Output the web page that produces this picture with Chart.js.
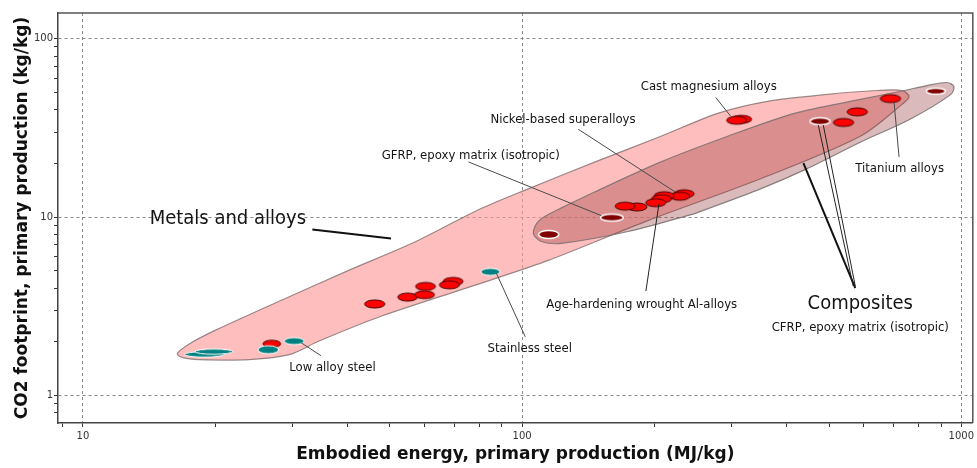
<!DOCTYPE html>
<html>
<head>
<meta charset="utf-8">
<script src="https://cdn.jsdelivr.net/npm/chart.js@4/dist/chart.umd.min.js"></script>
<style>
  html, body { margin: 0; padding: 0; background: #ffffff; }
  #wrap { width: 977px; height: 468px; position: relative; }
</style>
</head>
<body>
<div id="wrap"><canvas id="chart"></canvas></div>
<script>
// Embodied energy, primary production (MJ/kg) as [low, high] per record
const metalEnergy = [
  [25.7, 28.2], [43.8, 48.7], [52.1, 57.8], [57.2, 63.5], [56.9, 63.2],
  [66.1, 73.4], [64.8, 72.0], [173.4, 192.5], [162.9, 180.8], [222.0, 246.5],
  [217.0, 241.0], [200.0, 222.0], [197.2, 219.0], [191.2, 212.3], [300.1, 333.2],
  [292.2, 324.4], [511.5, 569.0], [549.6, 611.6], [654, 728]
];
// CO2 footprint, primary production (kg/kg) as [low, high] per record
const metalCO2 = [
  [1.86, 2.04], [3.09, 3.43], [3.38, 3.75], [3.88, 4.30], [3.49, 3.86],
  [4.14, 4.59], [3.96, 4.39], [10.83, 12.00], [10.94, 12.13], [12.84, 14.23],
  [12.43, 13.78], [12.52, 13.87], [12.05, 13.35], [11.44, 12.67], [33.61, 37.24],
  [33.18, 36.77], [32.26, 35.75], [37.0, 41.0], [43.89, 48.63]
];

const steelEnergy = [[17.03, 20.98], [18.0, 21.95], [28.73, 31.89], [25.03, 27.91], [80.6, 89.0]];
const steelCO2 = [[1.64, 1.76], [1.70, 1.82], [1.928, 2.110], [1.714, 1.899], [4.71, 5.16]];

const compositeEnergy = [[109.1, 121.2], [150.8, 170.0], [452.6, 502.5], [832.5, 919.5]];
const compositeCO2 = [[7.59, 8.41], [9.50, 10.40], [32.95, 36.06], [48.95, 52.84]];

// Family envelopes (outline, MJ/kg and kg/kg)
const metalsHullEnergy = [80.8, 47.9, 34.5, 29.5, 23.9, 18.4, 16.9, 16.4, 17.5, 20.1, 28.4, 40.4, 57.3,
  79.6, 103.3, 146.7, 207.1, 278.9, 362.3, 495.5, 643.6, 733.2, 760.5, 733.2, 588.9, 349.1, 193.4, 114.7, 80.8];
const metalsHullCO2 = [4.26, 2.79, 2.02, 1.692, 1.587, 1.587, 1.628, 1.714, 1.949, 2.33, 3.43, 5.04, 7.30,
  11.0, 14.4, 20.4, 28.4, 38.2, 44.6, 48.8, 51.3, 51.3, 47.5, 42.9, 28.4, 16.4, 9.56, 5.72, 4.26];

const compositesHullEnergy = [247.4, 174.3, 122.8, 110.6, 106.1, 108.3, 114.7, 146.7, 207.1, 293.9, 417.2,
  588.9, 741, 835.6, 927.6, 962, 947, 764.6, 588.9, 439.4, 349.1, 247.4];
const compositesHullCO2 = [10.46, 8.30, 7.12, 7.30, 8.09, 9.32, 10.33, 13.87, 20.4, 28.4, 38.2,
  45.7, 51.3, 54.7, 56.9, 54.0, 48.8, 35.4, 26.3, 18.4, 14.4, 10.46];

// Axis tick values
const energyTicks = [9, 10, 20, 30, 40, 50, 60, 70, 80, 90, 100, 200, 300, 400, 500, 600, 700, 800, 900, 1000];
const co2Ticks = [0.8, 0.9, 1, 2, 3, 4, 5, 6, 7, 8, 9, 10, 20, 30, 40, 50, 60, 70, 80, 90, 100];

// Callout texts with anchors and leader lines in data units
const callouts = [
  { text: 'Metals and alloys', size: 20, at: [14.19, 9.81], align: 'left',
    leaders: [{ from: [33.3, 8.52], to: [50.3, 7.59], width: 2, color: '#111111' }] },
  { text: 'Low alloy steel', size: 13, at: [29.5, 1.432], align: 'left',
    leaders: [{ from: [31.4, 1.974], to: [34.85, 1.670] }] },
  { text: 'Stainless steel', size: 13, at: [83.4, 1.827], align: 'left',
    leaders: [{ from: [87.4, 4.84], to: [101.7, 2.13] }] },
  { text: 'Age-hardening wrought Al-alloys', size: 13, at: [113.5, 3.25], align: 'left',
    leaders: [{ from: [205, 11.9], to: [191.4, 3.85], color: '#222222' }] },
  { text: 'Composites', size: 20, at: [588.9, 3.25], align: 'center',
    leaders: [
      { from: [437.1, 20.1], to: [573.7, 4.00], width: 2, color: '#111111' },
      { from: [472.6, 32.8], to: [567.6, 4.10], color: '#222222' },
      { from: [485.1, 32.8], to: [573.7, 4.10], color: '#222222' }
    ] },
  { text: 'CFRP, epoxy matrix (isotropic)', size: 13, at: [588.9, 2.39], align: 'center', leaders: [] },
  { text: 'Titanium alloys', size: 13, at: [573.7, 18.63], align: 'left',
    leaders: [{ from: [703.1, 44.0], to: [721.8, 21.7] }] },
  { text: 'Cast magnesium alloys', size: 13, at: [266.1, 53.7], align: 'center',
    leaders: [{ from: [276.0, 46.9], to: [298.5, 36.8] }] },
  { text: 'Nickel-based superalloys', size: 13, at: [84.7, 35.4], align: 'left',
    leaders: [{ from: [134.2, 31.1], to: [222.8, 13.87] }] },
  { text: 'GFRP, epoxy matrix (isotropic)', size: 13, at: [47.9, 22.0], align: 'left',
    leaders: [{ from: [75.5, 20.4], to: [151.4, 10.2] }] }
];

const LABEL_FONT = "'DejaVu Sans Condensed', 'DejaVu Sans', sans-serif";

function records(energy, co2) {
  return energy.map((e, i) => ({
    x: Math.sqrt(e[0] * e[1]),
    y: Math.sqrt(co2[i][0] * co2[i][1]),
    e: e,
    c: co2[i]
  }));
}

function outline(energy, co2) {
  return energy.map((v, i) => ({ x: v, y: co2[i] }));
}

// Point style: an ellipse spanning each record's energy and CO2 range
const markCache = new Map();
function ellipseMark(fill, stroke, strokeWidth) {
  return (ctx) => {
    const raw = ctx.raw;
    const chart = ctx.chart;
    const xs = chart.scales && chart.scales.x;
    const ys = chart.scales && chart.scales.y;
    if (!raw || !raw.e || !xs || !ys || !(xs.width > 0) || !(ys.height > 0)) return 'circle';
    const w = Math.abs(xs.getPixelForValue(raw.e[1]) - xs.getPixelForValue(raw.e[0]));
    const h = Math.abs(ys.getPixelForValue(raw.c[0]) - ys.getPixelForValue(raw.c[1]));
    if (!isFinite(w) || !isFinite(h)) return 'circle';
    const key = [fill, stroke, strokeWidth, w.toFixed(1), h.toFixed(1)].join('|');
    if (markCache.has(key)) return markCache.get(key);
    const pad = strokeWidth + 1;
    const cv = document.createElement('canvas');
    cv.width = Math.round(w + 2 * pad);
    cv.height = Math.round(h + 2 * pad);
    const g = cv.getContext('2d');
    g.beginPath();
    g.ellipse(cv.width / 2, cv.height / 2, w / 2, h / 2, 0, 0, Math.PI * 2);
    g.fillStyle = fill;
    g.fill();
    g.lineWidth = strokeWidth;
    g.strokeStyle = stroke;
    g.stroke();
    markCache.set(key, cv);
    return cv;
  };
}

const isDecade = (v) => Math.abs(Math.log10(v) - Math.round(Math.log10(v))) < 1e-9;

// Callouts, leader lines and the plot frame
const calloutPlugin = {
  id: 'callouts',
  afterDatasetsDraw(chart) {
    const { ctx, chartArea, scales: { x, y } } = chart;
    ctx.save();
    ctx.lineCap = 'butt';
    callouts.forEach((c) => {
      c.leaders.forEach((l) => {
        ctx.beginPath();
        ctx.moveTo(x.getPixelForValue(l.from[0]), y.getPixelForValue(l.from[1]));
        ctx.lineTo(x.getPixelForValue(l.to[0]), y.getPixelForValue(l.to[1]));
        ctx.lineWidth = l.width || 1;
        ctx.strokeStyle = l.color || '#4a4a4a';
        ctx.stroke();
      });
    });
    callouts.forEach((c) => {
      ctx.font = c.size + 'px ' + LABEL_FONT;
      ctx.fillStyle = '#141414';
      ctx.textAlign = c.align;
      ctx.textBaseline = 'middle';
      ctx.fillText(c.text, x.getPixelForValue(c.at[0]), y.getPixelForValue(c.at[1]));
    });
    // top and right edges of the plot frame
    ctx.beginPath();
    ctx.moveTo(chartArea.left, chartArea.top);
    ctx.lineTo(chartArea.right, chartArea.top);
    ctx.lineTo(chartArea.right, chartArea.bottom);
    ctx.lineWidth = 1.5;
    ctx.strokeStyle = '#555555';
    ctx.stroke();
    ctx.restore();
  }
};

const gridColor = (ctx) => (ctx.tick && isDecade(ctx.tick.value)) ? '#8a8a8a' : 'rgba(0,0,0,0)';
const tickLabel = (v) => isDecade(v) ? String(v) : '';

new Chart(document.getElementById('chart'), {
  type: 'scatter',
  data: {
    datasets: [
      {
        type: 'line',
        label: 'Metals and alloys',
        data: outline(metalsHullEnergy, metalsHullCO2),
        fill: 'shape',
        backgroundColor: 'rgba(255,150,150,0.62)',
        borderColor: 'rgba(130,110,110,0.8)',
        borderWidth: 1.2,
        tension: 0.3,
        pointRadius: 0,
        order: 10
      },
      {
        type: 'line',
        label: 'Composites',
        data: outline(compositesHullEnergy, compositesHullCO2),
        fill: 'shape',
        backgroundColor: 'rgba(140,40,40,0.32)',
        borderColor: 'rgba(120,110,110,0.85)',
        borderWidth: 1.2,
        tension: 0.3,
        pointRadius: 0,
        order: 9
      },
      {
        label: 'Metals',
        data: records(metalEnergy, metalCO2),
        pointStyle: ellipseMark('#ff0000', '#4a0000', 1),
        pointRadius: 5,
        order: 3
      },
      {
        label: 'Steels',
        data: records(steelEnergy, steelCO2),
        pointStyle: ellipseMark('#008080', '#ffffff', 1),
        pointRadius: 5,
        order: 2
      },
      {
        label: 'Composites (records)',
        data: records(compositeEnergy, compositeCO2),
        pointStyle: ellipseMark('#800000', '#ffffff', 1.4),
        pointRadius: 5,
        order: 1
      }
    ]
  },
  options: {
    responsive: true,
    maintainAspectRatio: false,
    animation: false,
    events: [],
    layout: { autoPadding: false, padding: { top: 13, right: 1, left: 0, bottom: 0 } },
    plugins: {
      legend: { display: false },
      tooltip: { enabled: false }
    },
    scales: {
      x: {
        type: 'logarithmic',
        position: 'bottom',
        min: 8.776,
        max: 1062.3,
        afterBuildTicks: (scale) => { scale.ticks = energyTicks.map((v) => ({ value: v, major: isDecade(v) })); },
        afterFit: (scale) => { scale.height = 45; },
        ticks: {
          autoSkip: false,
          maxRotation: 0,
          padding: 3,
          color: '#333333',
          font: { family: "'DejaVu Sans', sans-serif", size: 10 },
          callback: tickLabel
        },
        grid: { color: gridColor, lineWidth: 1, tickColor: '#333333', tickLength: 4 },
        border: { display: true, color: '#444444', width: 1.5, dash: [3, 3] },
        title: {
          display: true,
          text: 'Embodied energy, primary production (MJ/kg)',
          color: '#111111',
          font: { family: "'DejaVu Sans', sans-serif", size: 17, weight: 'bold' },
          padding: { top: 0, bottom: 3 }
        }
      },
      y: {
        type: 'logarithmic',
        position: 'left',
        min: 0.7256,
        max: 139.6,
        afterBuildTicks: (scale) => { scale.ticks = co2Ticks.map((v) => ({ value: v, major: isDecade(v) })); },
        afterFit: (scale) => { scale.width = 58; },
        ticks: {
          autoSkip: false,
          padding: 1,
          color: '#333333',
          font: { family: "'DejaVu Sans', sans-serif", size: 10 },
          callback: tickLabel
        },
        grid: { color: gridColor, lineWidth: 1, tickColor: '#333333', tickLength: 4 },
        border: { display: true, color: '#444444', width: 1.5, dash: [3, 3] },
        title: {
          display: true,
          text: 'CO2 footprint, primary production (kg/kg)',
          color: '#111111',
          font: { family: "'DejaVu Sans', sans-serif", size: 17, weight: 'bold' },
          padding: { top: 12, bottom: 0 }
        }
      }
    }
  },
  plugins: [calloutPlugin]
});
</script>
</body>
</html>
